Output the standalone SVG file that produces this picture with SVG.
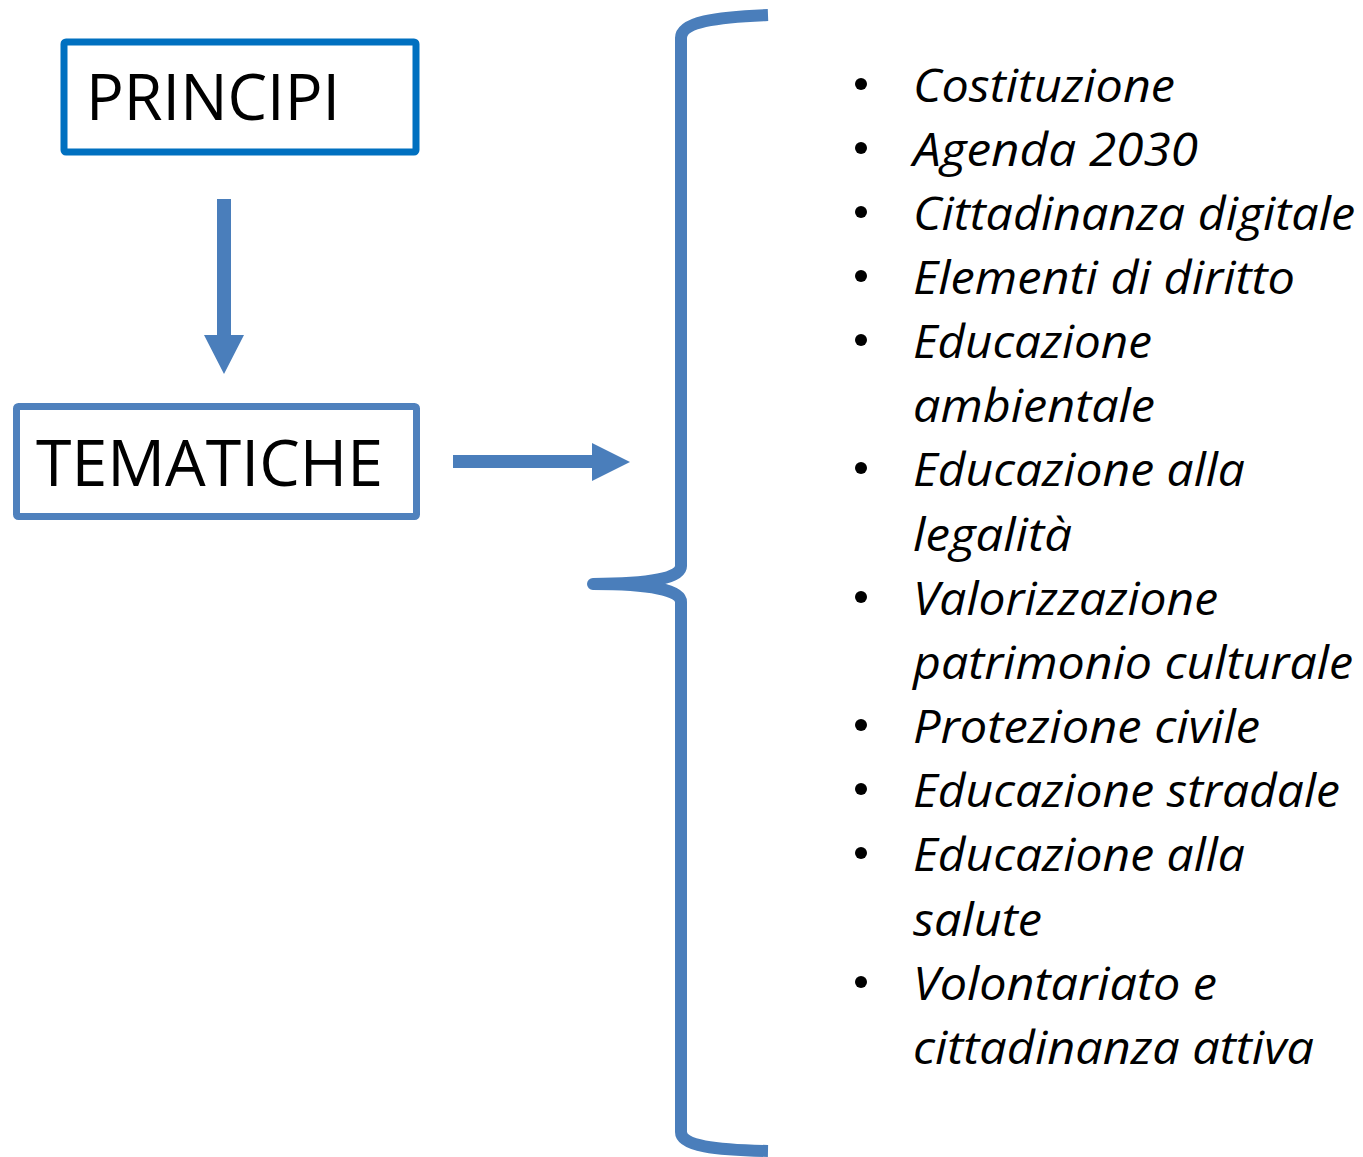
<svg xmlns="http://www.w3.org/2000/svg" width="1363" height="1157" viewBox="0 0 1363 1157">
<style>
.box{fill:#fff;stroke-width:7}
.lbl{font-family:"Open Sans","Noto Sans",sans-serif;font-size:64px;fill:#000}
.it{font-family:"Open Sans","Noto Sans",sans-serif;font-style:italic;font-size:46px;fill:#000}
.conn{fill:#4A7EBB;stroke:none}
.brace{fill:none;stroke:#4A7EBB;stroke-width:12;stroke-linecap:butt;stroke-linejoin:round}
.bul{fill:#000}
</style>
<rect width="1363" height="1157" fill="#fff"/>
<g id="principi">
<rect class="box" x="64" y="42" width="352" height="110" rx="2" stroke="#0070C0"/>
<text class="lbl" x="86" y="120" textLength="254" lengthAdjust="spacingAndGlyphs">PRINCIPI</text>
</g>
<g id="tematiche">
<rect class="box" x="16.5" y="406.5" width="400" height="110" rx="2" stroke="#4F81BD"/>
<text class="lbl" x="36" y="486" textLength="347" lengthAdjust="spacingAndGlyphs">TEMATICHE</text>
</g>
<g id="connectors">
<polygon class="conn" points="217,199 231,199 231,335 244,335 224,374 204,335 217,335"/>
<polygon class="conn" points="453,455 592,455 592,443 630,462 592,481 592,468 453,468"/>
<path class="brace" d="M768,15 C715,17 681,22 681,38 L681,566 C681,578 650,584 593,584 C650,584 681,590 681,602 L681,1132 C681,1146 715,1150 768,1151"/>
</g>
<g id="list">
<circle class="bul" cx="861" cy="84" r="6"/>
<circle class="bul" cx="861" cy="148" r="6"/>
<circle class="bul" cx="861" cy="212" r="6"/>
<circle class="bul" cx="861" cy="276" r="6"/>
<circle class="bul" cx="861" cy="340" r="6"/>
<circle class="bul" cx="861" cy="468" r="6"/>
<circle class="bul" cx="861" cy="597" r="6"/>
<circle class="bul" cx="861" cy="725" r="6"/>
<circle class="bul" cx="861" cy="789" r="6"/>
<circle class="bul" cx="861" cy="853" r="6"/>
<circle class="bul" cx="861" cy="982" r="6"/>
<text class="it" x="913" y="102" textLength="262" lengthAdjust="spacingAndGlyphs">Costituzione</text>
<text class="it" x="913" y="166" textLength="285" lengthAdjust="spacingAndGlyphs">Agenda 2030</text>
<text class="it" x="913" y="230" textLength="442" lengthAdjust="spacingAndGlyphs">Cittadinanza digitale</text>
<text class="it" x="913" y="294" textLength="382" lengthAdjust="spacingAndGlyphs">Elementi di diritto</text>
<text class="it" x="913" y="358" textLength="239" lengthAdjust="spacingAndGlyphs">Educazione</text>
<text class="it" x="913" y="422" textLength="242" lengthAdjust="spacingAndGlyphs">ambientale</text>
<text class="it" x="913" y="486" textLength="332" lengthAdjust="spacingAndGlyphs">Educazione alla</text>
<text class="it" x="913" y="551" textLength="159" lengthAdjust="spacingAndGlyphs">legalità</text>
<text class="it" x="913" y="615" textLength="305" lengthAdjust="spacingAndGlyphs">Valorizzazione</text>
<text class="it" x="913" y="679" textLength="440" lengthAdjust="spacingAndGlyphs">patrimonio culturale</text>
<text class="it" x="913" y="743" textLength="347" lengthAdjust="spacingAndGlyphs">Protezione civile</text>
<text class="it" x="913" y="807" textLength="427" lengthAdjust="spacingAndGlyphs">Educazione stradale</text>
<text class="it" x="913" y="871" textLength="332" lengthAdjust="spacingAndGlyphs">Educazione alla</text>
<text class="it" x="913" y="936" textLength="129" lengthAdjust="spacingAndGlyphs">salute</text>
<text class="it" x="913" y="1000" textLength="304" lengthAdjust="spacingAndGlyphs">Volontariato e</text>
<text class="it" x="913" y="1064" textLength="401" lengthAdjust="spacingAndGlyphs">cittadinanza attiva</text>
</g>
</svg>
